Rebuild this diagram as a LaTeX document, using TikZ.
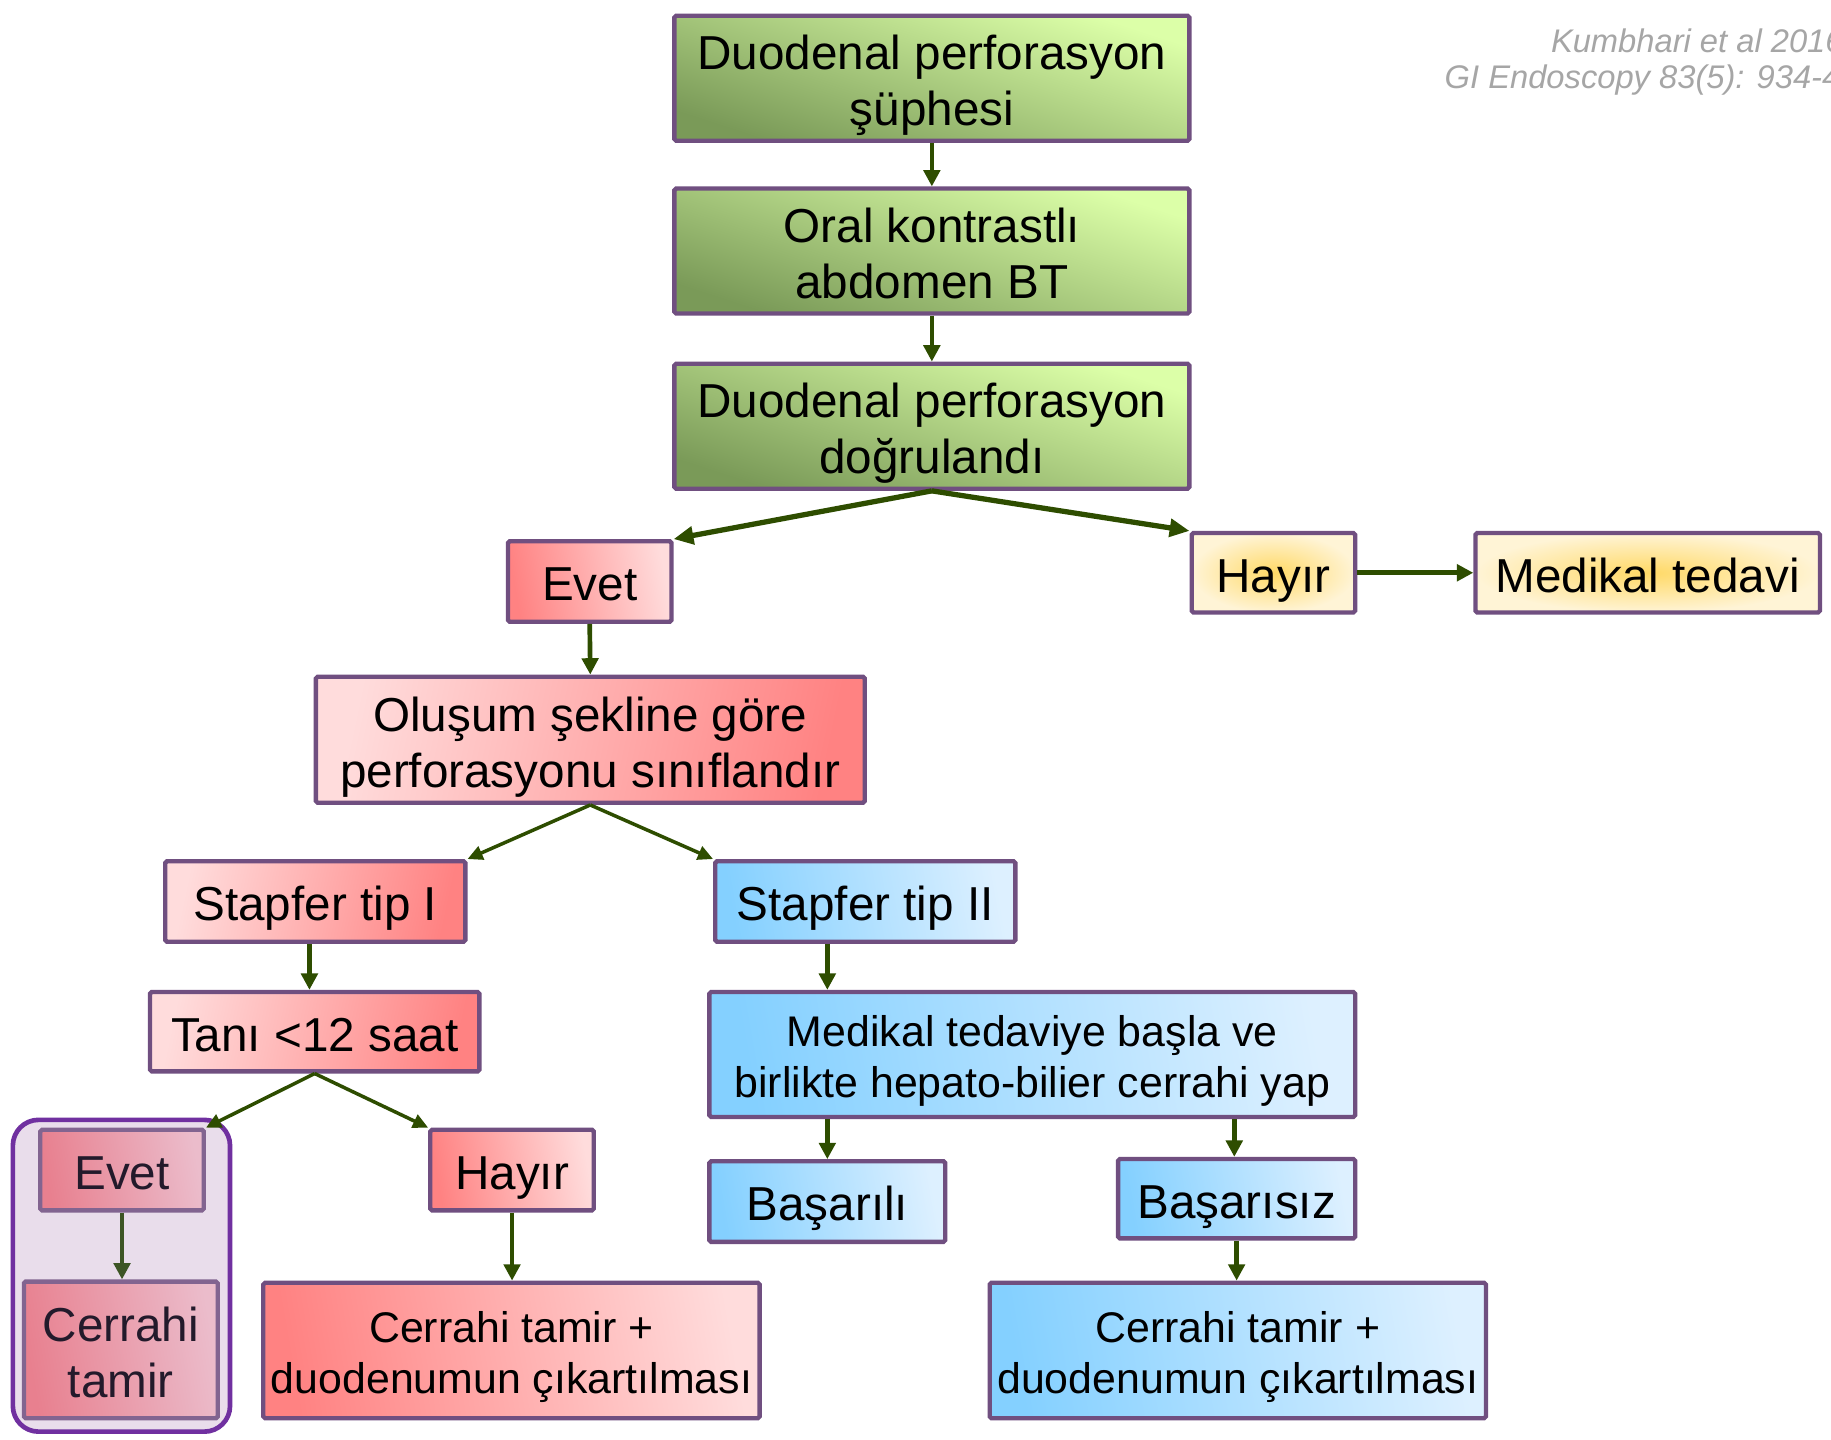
\documentclass[tikz,border=0pt]{standalone}
\usepackage{fontspec}
\setmainfont{Liberation Sans}
\usetikzlibrary{arrows.meta}
\definecolor{bordc}{HTML}{704F80}
\definecolor{arrc}{HTML}{2E4D00}
\definecolor{arrlt}{HTML}{3D5525}
\definecolor{gdark}{HTML}{7A9A58}
\definecolor{glight}{HTML}{DCFFA8}
\definecolor{rdeep}{HTML}{FF8282}
\definecolor{rlight}{HTML}{FFDCDC}
\definecolor{bdeep}{HTML}{84D0FF}
\definecolor{blight}{HTML}{DDF0FF}
\definecolor{ydeep}{HTML}{FFD966}
\definecolor{ylight}{HTML}{FFF4D6}
\definecolor{pdeep}{HTML}{E8808F}
\definecolor{plight}{HTML}{EBBCCB}
\definecolor{lavfill}{HTML}{E9DDEB}
\definecolor{lavline}{HTML}{7030A0}
\definecolor{citec}{HTML}{A6A6A6}
\definecolor{darktext}{HTML}{231A2B}
\newcommand\fbig{\fontsize{40.8}{48}\selectfont}
\newcommand\fsmall{\fontsize{36.7}{43.5}\selectfont}
\newcommand\fcite{\fontsize{28}{31}\selectfont\itshape}
\newcommand\twol[1]{\begin{tabular}[b]{@{}c@{}}#1\end{tabular}}
\begin{document}
\begin{tikzpicture}[x=1pt,y=-1pt,
  box/.style={draw=bordc, line width=3.7pt, rounded corners=1.5pt, inner sep=0pt, font=\fbig},
  oneline/.style={text height=33.2pt, text depth=0pt},
  twoline/.style={text height=81.2pt, text depth=0pt},
  smalltwo/.style={font=\fsmall, text height=73.8pt, text depth=0pt},
  gbox/.style={top color=glight, bottom color=gdark, shading angle=-18},
  rboxA/.style={left color=rlight, right color=rdeep, shading angle=78},
  rboxB/.style={left color=rdeep, right color=rlight, shading angle=100},
  bbox/.style={left color=bdeep, right color=blight, shading angle=100},
  ybox/.style={inner color=ydeep, outer color=ylight},
  pbox/.style={left color=pdeep, right color=plight, shading angle=100, text=darktext, draw=bordc!85!lavfill},
  arr/.style={draw=arrc, line width=4pt, -{Triangle[length=14pt,width=14pt]}},
  arrthick/.style={draw=arrc, line width=4.5pt, -{Triangle[length=17pt,width=15pt]}},
  arrthin/.style={draw=arrc, line width=3pt, -{Triangle[length=13pt,width=12pt]}},
  hlbox/.style={draw=lavline, fill=lavfill, line width=4pt, rounded corners=22pt, inner sep=0pt},
  cite/.style={text=citec, font=\fcite, inner sep=0pt}
]
\clip (0,0) rectangle (1568,1233);
\fill[white] (0,0) rectangle (1568,1233);

% citation
\node[cite, anchor=base west] (cite1) at (1328,45) {Kumbhari et al 2016};
\node[cite, anchor=base west] (cite2) at (1237,76) {GI Endoscopy 83(5): 934-43};

% highlight frame
\node[hlbox, minimum width=186pt, minimum height=267pt] (hl) at (104,1092.5) {};

% top chain
\node[box, gbox, twoline, minimum width=441pt, minimum height=107pt] (b1) at (798,67) {\twol{Duodenal perforasyon\\şüphesi}};
\node[box, gbox, twoline, minimum width=441pt, minimum height=107pt] (b2) at (798,215) {\twol{Oral kontrastlı\\abdomen BT}};
\node[box, gbox, twoline, minimum width=441pt, minimum height=107pt] (b3) at (798,365) {\twol{Duodenal perforasyon\\doğrulandı}};

\node[box, rboxB, oneline, minimum width=140pt, minimum height=69pt] (evet1) at (505,498) {Evet};
\node[box, ybox, oneline, minimum width=140pt, minimum height=68pt] (hayir1) at (1090.5,490.5) {Hayır};
\node[box, ybox, oneline, minimum width=295pt, minimum height=68pt] (medtedavi) at (1411,490.5) {Medikal tedavi};

\node[box, rboxA, twoline, minimum width=470pt, minimum height=108pt] (olusum) at (505.5,633.5) {\twol{Oluşum şekline göre\\perforasyonu sınıflandır}};

\node[box, rboxA, oneline, minimum width=257pt, minimum height=69pt] (stap1) at (270,772) {Stapfer tip I};
\node[box, bbox, oneline, minimum width=257pt, minimum height=69pt] (stap2) at (741,772) {Stapfer tip II};

\node[box, rboxA, oneline, minimum width=282pt, minimum height=68pt] (tani) at (269.5,883.5) {Tanı <12 saat};
\node[box, bbox, smalltwo, minimum width=553pt, minimum height=107pt] (med) at (884,903) {\twol{Medikal tedaviye başla ve\\birlikte hepato-bilier cerrahi yap}};

\node[box, pbox, oneline, minimum width=140pt, minimum height=69pt] (evet2) at (104.5,1002) {Evet};
\node[box, rboxB, oneline, minimum width=140pt, minimum height=69pt] (hayir2) at (438.5,1002) {Hayır};
\node[box, pbox, twoline, minimum width=166pt, minimum height=117pt] (cerrahi) at (103.5,1156) {\twol{Cerrahi\\tamir}};
\node[box, rboxB, smalltwo, minimum width=425pt, minimum height=116pt] (cer1) at (438,1156.5) {\twol{Cerrahi tamir +\\duodenumun çıkartılması}};

\node[box, bbox, oneline, minimum width=202pt, minimum height=69pt] (basarili) at (708.5,1029) {Başarılı};
\node[box, bbox, oneline, minimum width=203pt, minimum height=68pt] (basarisiz) at (1059,1026.5) {Başarısız};
\node[box, bbox, smalltwo, minimum width=425pt, minimum height=116pt] (cer2) at (1060,1156.5) {\twol{Cerrahi tamir +\\duodenumun çıkartılması}};

% connectors
\draw[arr] (b1.south) -- (b2.north);
\draw[arr] (b2.south) -- (b3.north);
\draw[arrthick] (b3.south) -- (evet1.north east);
\draw[arrthick] (b3.south) -- (hayir1.north west);
\draw[arr] (hayir1.east) -- (medtedavi.west);
\draw[arr] (evet1.south) -- (olusum.north);
\draw[arrthin] (olusum.south) -- (stap1.north east);
\draw[arrthin] (olusum.south) -- (stap2.north west);
\draw[arr] ([xshift=-5pt]stap1.south) -- ([xshift=-5pt]stap1.south |- tani.north);
\draw[arr] (stap2.south -| basarili.north) -- (med.north -| basarili.north);
\draw[arrthin] (tani.south) -- (evet2.north east);
\draw[arrthin] (tani.south) -- (hayir2.north west);
\draw[arr, draw=arrlt] (evet2.south) -- (evet2.south |- cerrahi.north);
\draw[arr] (hayir2.south) -- (hayir2.south |- cer1.north);
\draw[arr] (med.south -| basarili.north) -- (basarili.north);
\draw[arr] ([xshift=-2pt]med.south -| basarisiz.north) -- ([xshift=-2pt]basarisiz.north);
\draw[arr] (basarisiz.south) -- (basarisiz.south |- cer2.north);
\end{tikzpicture}
\end{document}
